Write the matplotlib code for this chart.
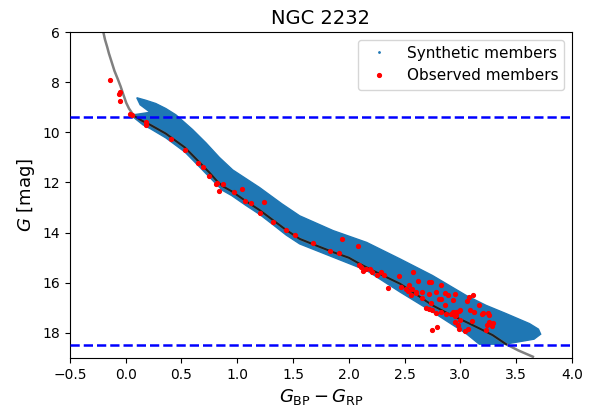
import numpy as np
import matplotlib
matplotlib.use("Agg")
import matplotlib.pyplot as plt
from matplotlib.lines import Line2D

# isochrone (colour, G)
iso_col = [-0.20, -0.185, -0.165, -0.15, -0.125, -0.10, -0.07, -0.045, -0.02, 0.006, 0.03, 0.06,
           0.09, 0.14, 0.22, 0.36, 0.53, 0.645, 0.75, 0.82, 0.87, 0.95, 1.08, 1.20, 1.32, 1.44,
           1.56, 1.70, 1.86, 2.00, 2.10, 2.21, 2.46, 2.60, 2.75, 2.90, 3.05, 3.17, 3.29, 3.41,
           3.52, 3.65]
iso_mag = [6.0, 6.3, 6.6, 6.85, 7.2, 7.55, 7.88, 8.17, 8.5, 8.83, 9.05, 9.25,
           9.38, 9.52, 9.7, 10.05, 10.6, 11.12, 11.6, 11.95, 12.15, 12.35, 12.75, 13.1, 13.5, 13.9,
           14.25, 14.5, 14.78, 15.0, 15.25, 15.5, 16.04, 16.45, 16.9, 17.25, 17.56, 17.82, 18.09, 18.45,
           18.7, 18.95]

# outline of the synthetic member cloud (upper edge left->right, lower edge right->left)
syn_col = [0.10, 0.18, 0.27, 0.36, 0.45, 0.60, 0.72, 0.84, 0.96, 1.20, 1.40, 1.56, 1.86,
           2.16, 2.46, 2.75, 3.05, 3.23, 3.41, 3.62, 3.70, 3.72, 3.66,
           3.40, 3.17, 3.05, 2.75, 2.46, 2.16, 1.86, 1.56, 1.44, 1.32,
           1.20, 1.08, 0.95, 0.87, 0.75, 0.645, 0.53, 0.36, 0.22, 0.155, 0.065, 0.07, 0.22, 0.13]
syn_mag = [8.62, 8.72, 8.85, 9.05, 9.30, 9.89, 10.42, 11.0, 11.5, 12.2, 12.85, 13.33, 13.92,
           14.39, 15.05, 15.71, 16.5, 16.9, 17.23, 17.63, 17.85, 18.05, 18.25,
           18.45, 18.45, 18.02, 17.16, 16.37, 15.51, 14.98, 14.45, 14.1, 13.68,
           13.27, 12.92, 12.52, 12.32, 11.78, 11.3, 10.78, 10.22, 9.85, 9.7, 9.38, 9.3, 9.2, 8.9]

# observed members
obs_col = [-0.14, -0.05, -0.06, -0.05, 0.04, 0.06, 0.18, 0.18, 0.41, 0.53, 0.645, 0.69, 0.75,
           0.81, 0.82, 0.87, 0.84, 0.97, 1.04, 1.07, 1.12, 1.24, 1.20, 1.32, 1.44, 1.52, 1.68,
           1.94, 2.08, 1.83, 1.91, 2.09, 2.11, 2.13, 2.15, 2.19, 2.21, 2.25, 2.29, 2.32, 2.45,
           2.35, 2.47, 2.51, 2.53, 2.575, 2.62, 2.72, 2.74, 2.83, 2.54, 2.57, 2.60, 2.66, 2.72,
           2.78, 2.86, 2.95, 2.56, 2.60, 2.89, 2.93, 2.83, 2.86, 3.08, 3.11, 3.06, 3.17, 3.09,
           3.12, 3.20, 3.26, 2.93, 2.96, 3.00, 2.96, 2.83, 2.87, 2.66, 2.74, 2.81, 2.69, 2.72,
           2.78, 2.75, 2.92, 2.95, 2.99, 3.19, 3.25, 2.95, 3.00, 2.98, 3.10, 3.26, 3.24, 2.75,
           2.79, 3.23, 3.07, 3.29, 3.28, 3.04, 2.99]
obs_mag = [7.93, 8.41, 8.49, 8.73, 9.25, 9.31, 9.60, 9.69, 10.26, 10.71, 11.24, 11.37, 11.74,
           12.08, 12.03, 12.07, 12.32, 12.36, 12.27, 12.73, 12.80, 12.77, 13.22, 13.57, 13.88, 14.10, 14.41,
           14.25, 14.52, 14.73, 14.82, 15.29, 15.38, 15.54, 15.44, 15.47, 15.58, 15.68, 15.58, 15.71, 15.73,
           16.20, 16.17, 16.24, 16.34, 15.58, 15.91, 15.95, 15.97, 16.07, 16.08, 16.24, 16.37, 16.37, 16.44,
           16.37, 16.41, 16.44, 16.48, 16.42, 16.50, 16.70, 16.63, 16.87, 16.57, 16.48, 16.74, 16.87, 17.07,
           17.16, 17.19, 17.30, 17.16, 17.16, 17.10, 17.30, 17.16, 17.23, 16.61, 16.79, 16.66, 17.00, 17.06,
           17.19, 17.10, 17.23, 17.32, 17.14, 17.23, 17.19, 17.56, 17.49, 17.67, 17.53, 17.56, 17.67, 17.89,
           17.76, 17.89, 17.83, 17.59, 17.73, 17.93, 17.83]

mag_limits = [9.4, 18.5]

fig = plt.figure(figsize=(5.97, 4.11), dpi=100)
ax = fig.add_axes([0.117, 0.129, 0.841, 0.793])

ax.fill(syn_col, syn_mag, color="#1f77b4", lw=1.0, ec="#1f77b4", zorder=1)

iso_col = np.array(iso_col)
iso_mag = np.array(iso_mag)
ax.plot(iso_col, iso_mag, color="gray", lw=1.8, zorder=2)
m = (iso_mag >= 9.38) & (iso_mag <= 18.5)
ax.plot(iso_col[m], iso_mag[m], color="k", lw=1.5, alpha=0.75, zorder=3)

for g in mag_limits:
    ax.axhline(g, color="b", ls="--", lw=1.8, zorder=4)

ax.plot(obs_col, obs_mag, ".", color="r", ms=5.5, zorder=5)

ax.set_xlim(-0.5, 4.0)
ax.set_ylim(19, 6)
ax.set_xticks(np.arange(-0.5, 4.01, 0.5))
ax.set_yticks([6, 8, 10, 12, 14, 16, 18])
ax.tick_params(labelsize=10)
ax.set_xlabel(r"$G_\mathrm{BP} - G_\mathrm{RP}$", fontsize=13)
ax.set_ylabel(r"$G$ [mag]", fontsize=13)
ax.set_title("NGC 2232", fontsize=14)

handles = [Line2D([], [], marker=".", ms=2, ls="none", color="#1f77b4"),
           Line2D([], [], marker=".", ms=5.5, ls="none", color="r")]
ax.legend(handles, ["Synthetic members", "Observed members"], loc="upper right", fontsize=11)

fig.savefig("out.png", dpi=100)
